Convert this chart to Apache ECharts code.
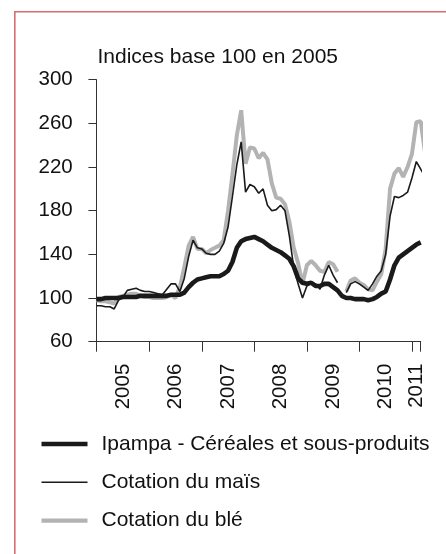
<!DOCTYPE html>
<html>
<head>
<meta charset="utf-8">
<script src="https://cdn.jsdelivr.net/npm/echarts@6/dist/echarts.min.js"></script>
<style>
  html, body { margin: 0; padding: 0; background: #fff; }
  #chart { width: 446px; height: 554px; }
</style>
</head>
<body>
<div id="chart"></div>
<script>
// Monthly index values, Jan 2005 onward (base 100 in 2005)
const yearLabels = ['2005', '2006', '2007', '2008', '2009', '2010', '2011'];
const seriesNames = ['Ipampa - Céréales et sous-produits', 'Cotation du maïs', 'Cotation du blé'];
const yTickValues = [60, 100, 140, 180, 220, 260, 300];

const ipampa = [
  99, 99, 100, 100, 100, 100, 101, 101, 101, 101, 102, 102,
  102, 102, 102, 102, 102, 103, 103, 103, 105, 110, 114, 117,
  118, 119, 120, 120, 120, 122, 125, 133, 146, 152, 154, 155,
  156, 154, 152, 149, 146, 144, 142, 139, 136, 129, 118, 114,
  113, 114, 111, 111, 113, 113, 110, 107, 102, 100, 100, 99,
  99, 99, 98, 99, 101, 104, 106, 117, 130, 137, 140, 143,
  146, 149, 151
];

const mais = [
  93, 93, 92, 92, 90, 98, 101, 107, 108, 109, 107, 106,
  106, 105, 104, 103, 108, 113, 113, 106, 118, 138, 153, 146,
  145, 141, 140, 140, 143, 150, 165, 193, 222, 243, 197, 204,
  202, 196, 200, 185, 180, 181, 185, 180, 157, 128, 113, 100,
  111, 114, 113, 108, 121, 130, 121, 114, null, 105, 113, 115,
  113, 110, 107, 113, 120, 125, 140, 175, 193, 192, 194, 197,
  210, 225, 218, 211
];

const ble = [
  98, 97, 97, 96, 95, 101, 102, 103, 104, 104, 102, 101,
  101, 100, 100, 100, 101, 103, 100, 110, 128, 148, 156, 145,
  145, 141, 144, 146, 148, 153, 180, 213, 249, 272, 223, 238,
  237, 228, 233, 227, 205, 192, 191, 186, 170, 146, 132, 113,
  130, 134, 130, 125, 124, 133, 131, 124, null, 106, 116, 118,
  114, 112, 108, 107, 115, 122, 145, 200, 214, 219, 211, 220,
  232, 261, 262, 233
];

const xTickValues = [0, 12, 24, 36, 48, 60, 72, 74];
const xLabelValues = [6, 18, 30, 42, 54, 66, 73];

function toPairs(arr) {
  return arr.map((v, i) => [i, v]);
}

const FONT = '"Liberation Sans", Arial, sans-serif';
const AX = '#333333';

const chart = echarts.init(document.getElementById('chart'), null, { renderer: 'canvas' });

chart.setOption({
  animation: false,
  backgroundColor: '#ffffff',
  title: {
    text: 'Indices base 100 en 2005',
    left: 97.5,
    top: 47,
    padding: 0,
    textStyle: { fontFamily: FONT, fontSize: 21, fontWeight: 'normal', color: '#111' }
  },
  graphic: [{
    type: 'rect',
    silent: true,
    shape: { x: 14.8, y: 11.7, width: 700, height: 800 },
    style: { fill: 'none', stroke: '#d96c6c', lineWidth: 1.6 }
  }],
  grid: { left: 96.7, top: 79.7, width: 324, height: 262, containLabel: false },
  legend: {
    orient: 'vertical',
    left: 41.5,
    top: 433.5,
    padding: 0,
    itemWidth: 46,
    itemHeight: 21,
    itemGap: 17.3,
    textStyle: { fontFamily: FONT, fontSize: 21, color: '#111', padding: [0, 0, 0, 9] },
    data: [
      { name: seriesNames[0], icon: 'path://M0 0H46V4.6H0Z' },
      { name: seriesNames[1], icon: 'path://M0 0H46V1.6H0Z' },
      { name: seriesNames[2], icon: 'path://M0 0H45V4H0Z' }
    ],
    selectedMode: false
  },
  xAxis: {
    type: 'value',
    min: 0,
    max: 74,
    splitLine: { show: false },
    axisLine: { show: true, lineStyle: { color: AX, width: 1 } },
    axisTick: { show: true, length: 10, lineStyle: { color: AX, width: 1 }, customValues: xTickValues },
    axisLabel: {
      customValues: xLabelValues,
      rotate: 90,
      margin: 22,
      fontFamily: FONT,
      fontSize: 20.5,
      color: '#111',
      formatter: function (v) { return yearLabels[Math.floor(v / 12)]; }
    }
  },
  yAxis: {
    type: 'value',
    min: 60,
    max: 300,
    splitLine: { show: false },
    axisLine: { show: true, lineStyle: { color: AX, width: 1 } },
    axisTick: { show: true, length: 8.3, lineStyle: { color: AX, width: 1 }, customValues: yTickValues },
    axisLabel: {
      customValues: yTickValues,
      margin: 24,
      fontFamily: FONT,
      fontSize: 20.5,
      color: '#111'
    }
  },
  series: [
    {
      name: seriesNames[0], type: 'line', z: 4, symbol: 'none', clip: false,
      data: toPairs(ipampa), color: '#1a1a1a',
      lineStyle: { color: '#1a1a1a', width: 4.6 }
    },
    {
      name: seriesNames[1], type: 'line', z: 3, symbol: 'none', clip: false,
      data: toPairs(mais), color: '#1a1a1a', connectNulls: false,
      lineStyle: { color: '#1a1a1a', width: 1.6 }
    },
    {
      name: seriesNames[2], type: 'line', z: 2, symbol: 'none', clip: false,
      data: toPairs(ble), color: '#b3b3b3', connectNulls: false,
      lineStyle: { color: '#b3b3b3', width: 4 }
    }
  ]
});
</script>
</body>
</html>
